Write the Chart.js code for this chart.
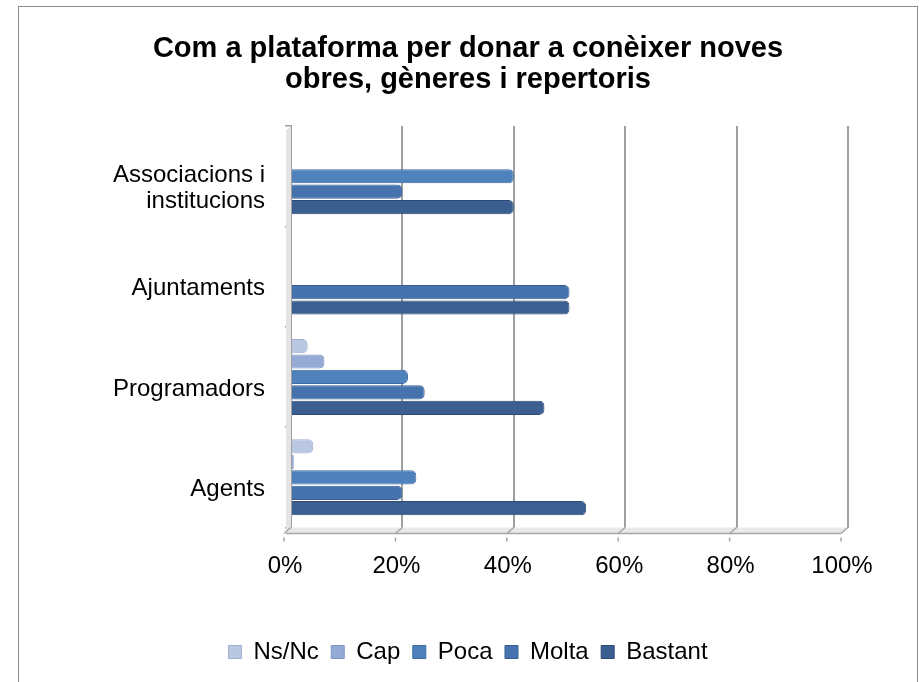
<!DOCTYPE html>
<html>
<head>
<meta charset="utf-8">
<script src="https://cdn.jsdelivr.net/npm/chart.js@4"></script>
<style>
  html, body { margin: 0; padding: 0; background: #fff; }
  #wrap { position: relative; width: 919px; height: 682px; overflow: hidden; }
  #frame { position: absolute; left: 18px; top: 6px; width: 898px; height: 700px; border: 1px solid #8a8a8a; }
  canvas { position: absolute; left: 0; top: 0; }
</style>
</head>
<body>
<div id="wrap">
  <div id="frame"></div>
  <canvas id="c" width="919" height="682"></canvas>
</div>
<script>
// ---- data ----
const categories = [['Associacions i', 'institucions'], 'Ajuntaments', 'Programadors', 'Agents'];
const seriesNames = ['Ns/Nc', 'Cap', 'Poca', 'Molta', 'Bastant'];
const nsnc    = [0, 0, 3, 4];
const cap     = [0, 0, 6, 0.5];
const poca    = [40, 0, 21, 22.5];
const molta   = [20, 50, 24, 20];
const bastant = [40, 50, 45.5, 53];
const xTicks  = [0, 20, 40, 60, 80, 100];
const titleLines = ['Com a plataforma per donar a conèixer noves', 'obres, gèneres i repertoris'];

const colors = ['#BAC7E3', '#95AAD5', '#4F81BD', '#4673AE', '#3B5F91'];
const borders = ['#9fb0d3', '#7d94c4', '#3d6aa3', '#355d93', '#2c4a74'];
const values = [nsnc, cap, poca, molta, bastant];

const FONT = '"Liberation Sans", Arial, Helvetica, sans-serif';

const floorPlugin = {
  id: 'floor3d',
  beforeDatasetsDraw(chart) {
    const { ctx, chartArea: a, scales } = chart;
    const x = scales.x;
    ctx.save();
    // left wall shading
    ctx.fillStyle = '#e4e4e4';
    ctx.beginPath();
    ctx.moveTo(a.left, a.top);
    ctx.lineTo(a.left - 5, a.top + 4);
    ctx.lineTo(a.left - 5, a.bottom + 6);
    ctx.lineTo(a.left, a.bottom);
    ctx.closePath();
    ctx.fill();
    // floor
    ctx.fillStyle = '#e9e9e9';
    ctx.beginPath();
    ctx.moveTo(a.left, a.bottom);
    ctx.lineTo(a.right, a.bottom);
    ctx.lineTo(a.right - 7, a.bottom + 6);
    ctx.lineTo(a.left - 5, a.bottom + 6);
    ctx.closePath();
    ctx.fill();
    ctx.strokeStyle = '#a6a6a6';
    ctx.lineWidth = 1.5;
    ctx.beginPath();
    ctx.moveTo(a.left - 5, a.bottom + 6);
    ctx.lineTo(a.right - 7, a.bottom + 6);
    ctx.stroke();
    xTicks.forEach(v => {
      const px = x.getPixelForValue(v);
      ctx.beginPath();
      ctx.moveTo(px, a.bottom);
      ctx.lineTo(px - 7, a.bottom + 6);
      ctx.stroke();
      ctx.beginPath();
      ctx.moveTo(px - 7, a.bottom + 10);
      ctx.lineTo(px - 7, a.bottom + 14);
      ctx.stroke();
    });
    ctx.restore();
  }
};

new Chart(document.getElementById('c'), {
  type: 'bar',
  data: {
    labels: categories,
    datasets: seriesNames.map((n, i) => ({
      label: n,
      data: values[i],
      backgroundColor: colors[i],
      borderColor: borders[i],
      borderWidth: 1,
      borderRadius: 5,
      borderSkipped: 'start',
      categoryPercentage: 0.77,
      barPercentage: 0.92
    }))
  },
  options: {
    indexAxis: 'y',
    responsive: false,
    animation: false,
    devicePixelRatio: 1,
    layout: { padding: { left: 19, right: 2, top: 33, bottom: 8 } },
    plugins: {
      title: {
        display: true,
        text: titleLines,
        color: '#000',
        font: { family: FONT, size: 29, weight: 'bold', lineHeight: 1.07 },
        padding: { top: 0, bottom: 31 }
      },
      legend: {
        position: 'bottom',
        labels: {
          color: '#000',
          font: { family: FONT, size: 24 },
          boxWidth: 13,
          boxHeight: 13,
          padding: 12.5
        }
      },
      tooltip: { enabled: false }
    },
    scales: {
      x: {
        min: 0,
        max: 100,
        afterBuildTicks: s => { s.ticks = xTicks.map(v => ({ value: v })); },
        afterFit: s => { s.height = 100; },
        ticks: {
          color: '#000',
          font: { family: FONT, size: 24 },
          padding: 24,
          labelOffset: -6,
          callback: v => v + '%'
        },
        grid: { color: '#a0a0a0', lineWidth: 2, drawTicks: false },
        border: { display: false }
      },
      y: {
        afterFit: s => { s.width = 272; },
        ticks: {
          color: '#000',
          font: { family: FONT, size: 24, lineHeight: 1.1 },
          padding: 20,
          labelOffset: 12
        },
        grid: { drawOnChartArea: false, color: '#a0a0a0', tickLength: 6, lineWidth: 1.5 },
        border: { display: true, color: '#a0a0a0', width: 2 }
      },
      yRight: {
        type: 'linear',
        position: 'right',
        afterFit: s => { s.width = 69; },
        ticks: { display: false },
        grid: { display: false },
        border: { display: false }
      }
    }
  },
  plugins: [floorPlugin]
});
</script>
</body>
</html>
